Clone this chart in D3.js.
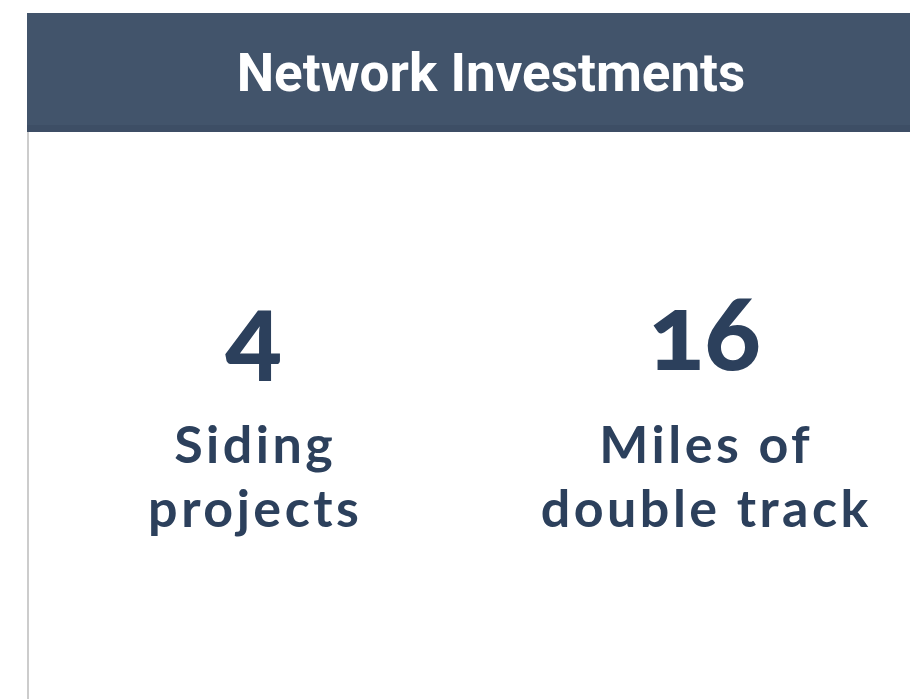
<!DOCTYPE html>
<html>
<head>
<meta charset="utf-8">
<script src="https://cdn.jsdelivr.net/npm/d3@7"></script>
<style>
  html, body { margin: 0; padding: 0; background: #fff; }
  svg { display: block; }
  .title { font-family: Roboto, "Liberation Sans", sans-serif; font-weight: 700; fill: #fff; }
  .stat { font-family: Lato, "Open Sans", sans-serif; font-weight: 900; fill: #2c405c;
          font-variant-numeric: oldstyle-nums; font-feature-settings: "onum" 1; }
  .label { font-family: Lato, "Open Sans", sans-serif; font-weight: 700; fill: #2c405c;
           letter-spacing: 3.5px; }
</style>
</head>
<body>
<svg id="card"></svg>
<script>
/**
 * Data
 */
const title = "Network Investments";
const statValues = [4, 16];
const statLabels = [["Siding", "projects"], ["Miles of", "double track"]];

const width = 910;
const height = 699;

const svg = d3.select("#card")
              .attr("width", width)
              .attr("height", height);

// header bar
svg.append("rect")
   .attr("x", 27).attr("y", 13)
   .attr("width", width - 27).attr("height", 119)
   .attr("fill", "#42546b");
svg.append("rect")
   .attr("x", 27).attr("y", 125)
   .attr("width", width - 27).attr("height", 7)
   .attr("fill", "#3d4e65");

svg.append("text")
   .attr("class", "title")
   .attr("x", 491).attr("y", 91)
   .attr("text-anchor", "middle")
   .style("font-size", "53px")
   .text(title);

// left border of the panel
svg.append("rect")
   .attr("x", 27).attr("y", 132)
   .attr("width", 2).attr("height", height - 132)
   .attr("fill", "#cccccc");

/**
 * Stats
 */
const xScale = d3.scaleBand()
                 .domain(d3.range(statValues.length))
                 .range([28, 930]);

const cols = svg.selectAll("g.col")
                .data(statValues)
                .enter()
                .append("g")
                .attr("class", "col")
                .attr("transform", (d, i) => "translate(" + (xScale(i) + xScale.bandwidth() / 2) + ",0)");

cols.append("text")
    .attr("class", "stat")
    .attr("text-anchor", "middle")
    .attr("y", 370)
    .style("font-size", "104px")
    .text(d => d);

cols.each(function (d, i) {
  d3.select(this).selectAll("text.label")
    .data(statLabels[i])
    .enter()
    .append("text")
    .attr("class", "label")
    .attr("text-anchor", "middle")
    .attr("dx", 1.75)
    .attr("y", (t, j) => 463 + j * 64)
    .style("font-size", "52px")
    .text(t => t);
});
</script>
</body>
</html>
